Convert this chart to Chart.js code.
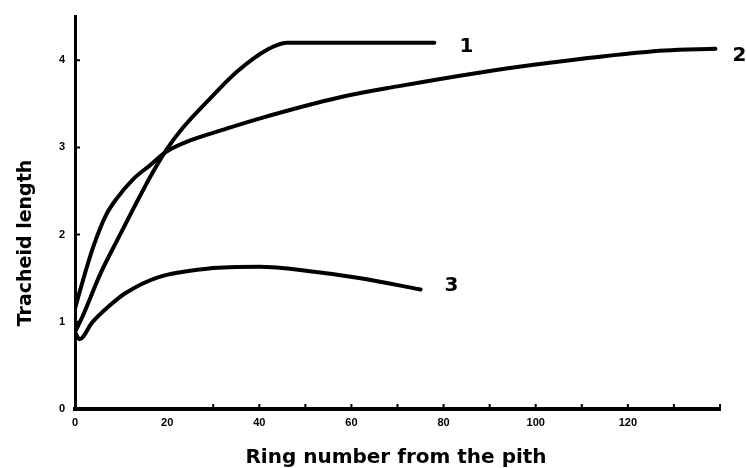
<!DOCTYPE html>
<html>
<head>
<meta charset="utf-8">
<script src="https://cdn.jsdelivr.net/npm/chart.js@4.4.0/dist/chart.umd.min.js"></script>
<style>
  html, body { margin: 0; padding: 0; background: #fff; }
  #wrap { width: 746px; height: 468px; }
</style>
</head>
<body>
<div id="wrap"><canvas id="chart"></canvas></div>
<script>
// ring number from the pith / tracheid length
const rings1 = [0, 1.7, 5.5, 9, 12.7, 16.4, 19.8, 23.5, 29.3, 35.2, 41.7, 46, 60, 78];
const length1 = [0.88, 1.07, 1.55, 1.92, 2.3, 2.67, 2.97, 3.23, 3.56, 3.87, 4.12, 4.2, 4.2, 4.2];

const rings2 = [0, 1.1, 3.9, 6.7, 9, 12.7, 16.4, 19.8, 25, 32, 40, 58, 70, 88, 100, 114, 128, 139];
const length2 = [1.15, 1.36, 1.85, 2.22, 2.41, 2.64, 2.8, 2.95, 3.08, 3.2, 3.33, 3.58, 3.7, 3.86, 3.95, 4.04, 4.11, 4.13];

const rings3 = [0, 1, 3.7, 7.4, 11, 18, 29, 40, 51, 62, 75];
const length3 = [0.88, 0.8, 0.99, 1.18, 1.33, 1.51, 1.61, 1.63, 1.58, 1.5, 1.37];

const curveNames = ['1', '2', '3'];
const xTicks = [0, 20, 40, 60, 80, 100, 120];
const yTicks = [0, 1, 2, 3, 4];
const xTitle = 'Ring number from the pith';
const yTitle = 'Tracheid length';

// label offset from the end of each curve, px
const nameOffsets = [[32, 4], [24, 7], [31, -4]];

const toPoints = (xs, ys) => xs.map((x, i) => ({x: x, y: ys[i]}));

const lineStyle = {
    borderColor: '#000',
    borderWidth: 4,
    pointRadius: 0,
    fill: false,
    cubicInterpolationMode: 'monotone',
    borderCapStyle: 'round',
    borderJoinStyle: 'round'
};

const boldFont = '"DejaVu Sans", "Liberation Sans", sans-serif';

// curve numbers at the line ends
const endLabels = {
    id: 'endLabels',
    afterDatasetsDraw(chart) {
        const ctx = chart.ctx;
        ctx.save();
        ctx.fillStyle = '#000';
        ctx.font = 'bold 20px ' + boldFont;
        ctx.textAlign = 'center';
        ctx.textBaseline = 'middle';
        chart.data.datasets.forEach((ds, i) => {
            const pts = chart.getDatasetMeta(i).data;
            const last = pts[pts.length - 1];
            ctx.fillText(curveNames[i], last.x + nameOffsets[i][0], last.y + nameOffsets[i][1]);
        });
        ctx.restore();
    }
};

// inward tick marks and the two axis titles
const axisExtras = {
    id: 'axisExtras',
    afterDraw(chart) {
        const ctx = chart.ctx;
        const x = chart.scales.x, y = chart.scales.y;
        ctx.save();
        ctx.strokeStyle = '#000';
        ctx.lineWidth = 2;
        ctx.beginPath();
        yTicks.forEach(v => {
            const py = y.getPixelForValue(v);
            ctx.moveTo(x.left, py);
            ctx.lineTo(x.left + 5, py);
        });
        for (let v = 30; v <= 140; v += 10) {
            const px = x.getPixelForValue(v);
            ctx.moveTo(px, y.bottom);
            ctx.lineTo(px, y.bottom - 5);
        }
        ctx.stroke();

        ctx.fillStyle = '#000';
        ctx.textAlign = 'center';
        ctx.textBaseline = 'alphabetic';
        ctx.font = 'bold 20px ' + boldFont;
        ctx.fillText(xTitle, 396, 463);

        ctx.font = 'bold 19px ' + boldFont;
        ctx.translate(31, 243);
        ctx.rotate(-Math.PI / 2);
        ctx.fillText(yTitle, 0, 0);
        ctx.restore();
    }
};

new Chart(document.getElementById('chart'), {
    type: 'line',
    data: {
        datasets: [
            {label: curveNames[0], data: toPoints(rings1, length1), ...lineStyle},
            {label: curveNames[1], data: toPoints(rings2, length2), ...lineStyle},
            {label: curveNames[2], data: toPoints(rings3, length3), ...lineStyle}
        ]
    },
    options: {
        responsive: true,
        maintainAspectRatio: false,
        animation: false,
        layout: {padding: {top: 8, right: 26, left: 0, bottom: 0}},
        plugins: {legend: {display: false}, tooltip: {enabled: false}},
        scales: {
            x: {
                type: 'linear',
                min: 0,
                max: 140,
                afterFit(scale) { scale.height = 59; },
                grid: {display: true, drawOnChartArea: false, drawTicks: false},
                border: {color: '#000', width: 4},
                ticks: {
                    stepSize: 20,
                    padding: 7,
                    color: '#000',
                    maxRotation: 0,
                    font: {family: '"Liberation Sans", Arial, sans-serif', size: 11, weight: 'bold'},
                    callback: v => xTicks.includes(v) ? v : ''
                }
            },
            y: {
                min: 0,
                max: 4.5,
                afterFit(scale) { scale.width = 75; },
                grid: {display: true, drawOnChartArea: false, drawTicks: false},
                border: {color: '#000', width: 3},
                ticks: {
                    stepSize: 1,
                    padding: 10,
                    color: '#000',
                    font: {family: '"Liberation Sans", Arial, sans-serif', size: 11, weight: 'bold'},
                    callback: v => yTicks.includes(v) ? v : ''
                }
            }
        }
    },
    plugins: [endLabels, axisExtras]
});
</script>
</body>
</html>
